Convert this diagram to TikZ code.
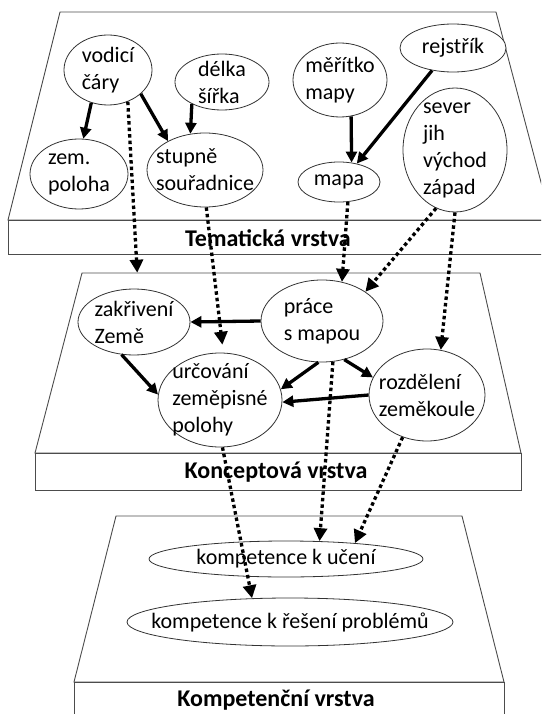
\documentclass[tikz,border=0pt]{standalone}
\usepackage{fontspec}
\setmainfont{Carlito}
\usetikzlibrary{shapes.geometric,arrows.meta}

\begin{document}
\begin{tikzpicture}[x=1pt,y=-1pt,
  layer/.style={draw=black!70,line width=0.9pt},
  layername/.style={font=\fontsize{24}{28}\selectfont\bfseries},
  ell/.style={ellipse,draw=black!80,line width=0.8pt,fill=white,inner sep=0pt,align=left,font=\fontsize{22}{27}\selectfont},
  link/.style={line width=3.3pt,-{Triangle[length=11pt,width=11pt]}},
  dotlink/.style={line width=3.3pt,dash pattern=on 3.5pt off 3pt,-{Triangle[length=13pt,width=13pt]}}]

\useasboundingbox (0,0) rectangle (541,714);
\clip (0,0) rectangle (541,714);

\draw[layer] (60,12)--(496,12)--(551,220)--(8,220)--cycle;
\draw[layer] (8,220) rectangle (560,254);
\node[layername] (tematicka) at (268,238) {Tematická vrstva};

\draw[layer] (82,273)--(480,273)--(521,453)--(35,453)--cycle;
\draw[layer] (35,453) rectangle (521,490);
\node[layername] (konceptova) at (276,472) {Konceptová vrstva};

\draw[layer] (116,516)--(462,516)--(504,682)--(74,682)--cycle;
\draw[layer] (74,682) rectangle (504,730);
\node[layername] (kompetencni) at (276,700) {Kompetenční vrstva};

\node[ell,minimum width=88pt,minimum height=70pt] (vodici) at (108,70) {vodicí\\čáry};
\node[ell,minimum width=94pt,minimum height=56pt,inner ysep=-4pt] (delka) at (222,82) {délka\\šířka};
\node[ell,minimum width=98pt,minimum height=70pt] (zem) at (79,174) {zem.\\poloha};
\node[ell,minimum width=116pt,minimum height=74pt,inner xsep=-8pt] (stupne) at (205,170) {stupně\\souřadnice};
\node[ell,minimum width=94pt,minimum height=74pt,inner xsep=-3pt] (meritko) at (340,80) {měřítko\\mapy};
\node[ell,minimum width=106pt,minimum height=48pt] (rejstrik) at (453,48) {rejstřík};
\node[ell,minimum width=82pt,minimum height=40pt] (mapa) at (339,182) {mapa};
\node[ell,minimum width=104pt,minimum height=124pt,inner ysep=-7pt] (sever) at (455,150) {sever\\jih\\východ\\západ};

\node[ell,minimum width=112pt,minimum height=66pt,inner xsep=-1pt,inner ysep=-2pt] (zakriveni) at (134,322) {zakřivení\\Země};
\node[ell,minimum width=122pt,minimum height=82pt] (prace) at (322,321) {práce\\s mapou};
\node[ell,minimum width=124pt,minimum height=94pt,inner xsep=-4pt,inner ysep=-4pt] (urcovani) at (220,400) {určování\\zeměpisné\\polohy};
\node[ell,minimum width=116pt,minimum height=92pt,inner xsep=-8pt] (rozdeleni) at (427,395) {rozdělení\\zeměkoule};

\node[ell,minimum width=274pt,minimum height=36pt] (uceni) at (286,559) {kompetence k učení};
\node[ell,minimum width=326pt,minimum height=48pt,inner xsep=-24pt] (reseni) at (290,622) {kompetence k řešení problémů};

\draw[link] (vodici.243)--(zem.83);
\draw[link] (vodici.324)--(stupne.142);
\draw[link] (delka.216)--(stupne.112);
\draw[link] (meritko.287)--(mapa.57);
\draw[link] (rejstrik.227)--(mapa.46);

\draw[link] (prace.180)--(zakriveni.0);
\draw[link] (zakriveni.249)--(urcovani.175);
\draw[link] (prace.265)--(urcovani.10);
\draw[link] (prace.300)--(rozdeleni.162);
\draw[link] (rozdeleni.180)--(urcovani.358);

\draw[dotlink,shorten >=16pt] (vodici.302)--(zakriveni.83);
\draw[dotlink,shorten >=8pt] (stupne.272)--(urcovani.86);
\draw[dotlink] (mapa.294)--(prace.63);
\draw[dotlink] (sever.252)--(prace.34);
\draw[dotlink] (sever.270)--(rozdeleni.73);

\draw[dotlink] (urcovani.273)--(reseni.148);
\draw[dotlink] (prace.285)--(uceni.28);
\draw[dotlink] (rozdeleni.240)--(uceni.13);

\end{tikzpicture}
\end{document}
